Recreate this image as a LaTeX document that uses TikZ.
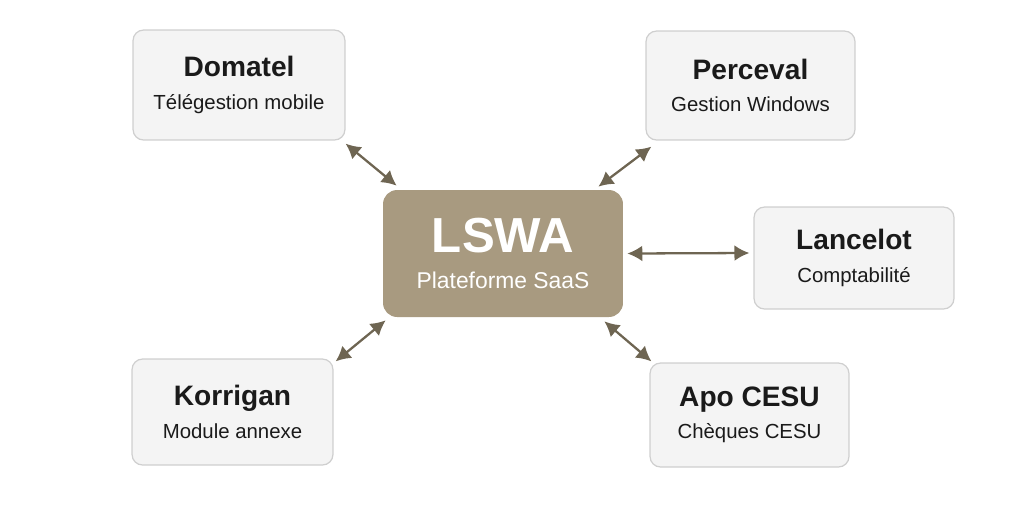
\documentclass[tikz,border=0pt]{standalone}
\usepackage{fontspec}
\setmainfont{Liberation Sans}
\usepackage{xcolor}
\usetikzlibrary{arrows.meta}

\definecolor{hubfill}{HTML}{A89A80}
\definecolor{boxfill}{HTML}{F4F4F4}
\definecolor{boxline}{HTML}{CFCFCF}
\definecolor{linkcol}{HTML}{6E6552}
\definecolor{txtcol}{HTML}{1A1A1A}

\newcommand{\modtext}[2]{{\fontsize{16}{19}\selectfont\bfseries #1}\\[6.5pt]{\fontsize{11.6}{13}\selectfont #2}}

\begin{document}
\begin{tikzpicture}[x=0.02cm, y=-0.02cm,
  modbox/.style={draw=boxline, line width=0.7pt, fill=boxfill, rounded corners=6pt,
    align=center, text=txtcol, inner sep=0pt},
  hubbox/.style={fill=hubfill, rounded corners=8pt, align=center, text=white, inner sep=0pt},
  link/.style={{Latex[length=8.5pt,width=9pt]}-{Latex[length=8.5pt,width=9pt]}, line width=1.3pt, draw=linkcol}]
\useasboundingbox (0,0) rectangle (1024,512);

\node[hubbox, minimum width=4.8cm, minimum height=2.54cm] (lswa) at (503,253.5)
  {{\fontsize{28}{32}\selectfont\bfseries LSWA}\\[8.5pt]{\fontsize{13}{15}\selectfont Plateforme SaaS}};

\node[modbox, minimum width=4.24cm, minimum height=2.2cm] (dom) at (239,85) {\modtext{Domatel}{Télégestion mobile}};
\node[modbox, minimum width=4.18cm, minimum height=2.18cm] (perc) at (750.5,85.5) {\modtext{Perceval}{Gestion Windows}};
\node[modbox, minimum width=4.0cm, minimum height=2.04cm] (lanc) at (854,258) {\modtext{Lancelot}{Comptabilité}};
\node[modbox, minimum width=4.02cm, minimum height=2.12cm] (kor) at (232.5,412) {\modtext{Korrigan}{Module annexe}};
\node[modbox, minimum width=3.98cm, minimum height=2.08cm] (apo) at (749.5,415) {\modtext{Apo CESU}{Chèques CESU}};

\draw[link] ([shift={(0,3)}]dom.south east) -- ([shift={(14,-4)}]lswa.north west);
\draw[link] ([shift={(6,6)}]perc.south west) -- ([shift={(-25,-3)}]lswa.north east);
\draw[link] ([shift={(4,0)}]lswa.east) -- ([shift={(-4,-5)}]lanc.west);
\draw[link] ([shift={(2,3)}]kor.north east) -- ([shift={(3,3)}]lswa.south west);
\draw[link] ([shift={(-19,4)}]lswa.south east) -- ([shift={(2,-1)}]apo.north west);
\end{tikzpicture}
\end{document}
